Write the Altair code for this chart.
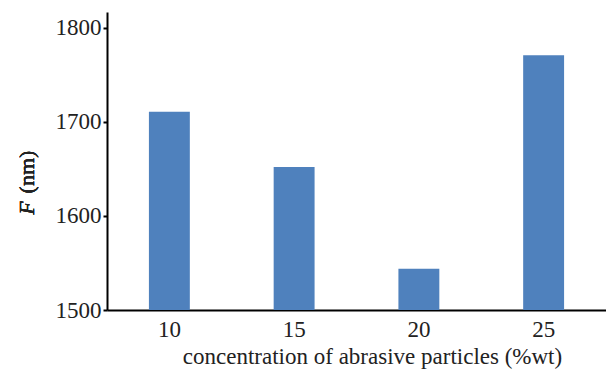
import altair as alt
import pandas as pd

categories = ["10", "15", "20", "25"]
values = [1711, 1652, 1544, 1771]

df = pd.DataFrame({"conc": categories, "F": values})

FONT = "'Liberation Serif', 'Times New Roman', serif"

bars = alt.Chart(df).mark_bar(color="#4F81BD").encode(
    x=alt.X("conc:N", sort=categories,
            scale=alt.Scale(paddingInner=0.672, paddingOuter=0.336),
            axis=alt.Axis(title="concentration of abrasive particles (%wt)",
                          labelAngle=0, ticks=False, labelPadding=8,
                          titlePadding=4, titleX=265)),
    y=alt.Y("F:Q", scale=alt.Scale(domain=[1500, 1817], nice=False, zero=False),
            axis=alt.Axis(title=None, values=[1500, 1600, 1700, 1800], format="d",
                          tickSize=4, labelPadding=2, grid=False)),
    y2=alt.datum(1500),
)

title_f = alt.Chart(df).mark_text(
    text="F", angle=270, font=FONT, fontSize=22, fontStyle="italic",
    fontWeight="normal", color="#222", align="center", baseline="middle"
).encode(x=alt.value(-80), y=alt.value(196))

title_nm = alt.Chart(df).mark_text(
    text="(nm)", angle=270, font=FONT, fontSize=22, fontWeight="normal",
    color="#222", align="center", baseline="middle"
).encode(x=alt.value(-80), y=alt.value(160))

chart = alt.layer(bars, title_f, title_nm).properties(
    width=499, height=298,
    autosize=alt.AutoSizeParams(type="none"),
    padding={"left": 107, "top": 12, "right": 0, "bottom": 62},
).configure_view(stroke=None).configure_axis(
    domainColor="#000", domainWidth=2, tickColor="#000", tickWidth=2,
    labelFont=FONT, titleFont=FONT, labelFontSize=23, titleFontSize=23,
    labelColor="#222", titleColor="#222", titleFontWeight="normal",
)

chart.save("out.html", embed_options={"renderer": "svg", "actions": False})
